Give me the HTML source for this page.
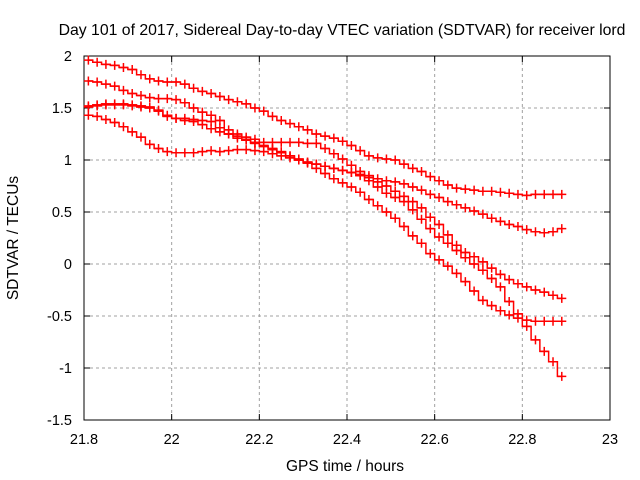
<!DOCTYPE html>
<html><head><meta charset="utf-8"><style>
body{margin:0;background:#fff}
svg{display:block;font-family:"Liberation Sans",sans-serif}
</style></head><body>
<svg id="chart" width="640" height="480" viewBox="0 0 640 480">
<text x="342" y="35" font-size="15.8" text-anchor="middle">Day 101 of 2017, Sidereal Day-to-day VTEC variation (SDTVAR) for receiver lord</text>
<text x="345" y="471" font-size="15.5" text-anchor="middle">GPS time / hours</text>
<text x="18" y="238" font-size="15.5" text-anchor="middle" transform="rotate(-90 18 238)">SDTVAR / TECUs</text>
<g id="grid"></g>
<g id="axes"></g>
<g id="series"></g>
</svg>
<script>
const xTicks=[21.8,22,22.2,22.4,22.6,22.8,23];
const xTickLabels=["21.8","22","22.2","22.4","22.6","22.8","23"];
const yTicks=[-1.5,-1,-0.5,0,0.5,1,1.5,2];
const yTickLabels=["-1.5","-1","-0.5","0","0.5","1","1.5","2"];
const xStart=21.81, xStep=0.02;
const seriesA=[1.96,1.94,1.92,1.91,1.89,1.87,1.82,1.78,1.76,1.75,1.75,1.73,1.69,1.66,1.64,1.61,1.58,1.56,1.54,1.5,1.47,1.42,1.38,1.35,1.32,1.29,1.25,1.23,1.21,1.18,1.14,1.09,1.04,1.02,1.01,1.0,0.96,0.92,0.89,0.84,0.8,0.76,0.73,0.72,0.71,0.7,0.7,0.69,0.68,0.67,0.66,0.67,0.67,0.67,0.67];
const seriesB=[1.76,1.75,1.73,1.71,1.67,1.64,1.62,1.6,1.59,1.59,1.58,1.55,1.5,1.46,1.43,1.38,1.29,1.25,1.22,1.2,1.17,1.17,1.17,1.17,1.17,1.16,1.16,1.11,1.06,1.01,0.95,0.89,0.85,0.82,0.8,0.79,0.77,0.74,0.71,0.67,0.64,0.6,0.57,0.54,0.51,0.48,0.44,0.41,0.38,0.36,0.33,0.31,0.3,0.31,0.34];
const seriesC=[1.52,1.53,1.54,1.54,1.54,1.53,1.52,1.51,1.48,1.43,1.4,1.38,1.37,1.34,1.3,1.27,1.25,1.23,1.2,1.16,1.13,1.1,1.07,1.04,1.0,0.97,0.92,0.87,0.82,0.78,0.74,0.69,0.62,0.56,0.5,0.44,0.36,0.27,0.2,0.1,0.04,-0.02,-0.09,-0.17,-0.26,-0.35,-0.4,-0.45,-0.49,-0.52,-0.54,-0.55,-0.55,-0.55,-0.55];
const seriesD=[1.43,1.42,1.39,1.36,1.32,1.27,1.22,1.15,1.11,1.08,1.07,1.07,1.07,1.08,1.09,1.08,1.09,1.1,1.1,1.09,1.08,1.06,1.04,1.02,1.0,0.98,0.96,0.94,0.92,0.9,0.88,0.86,0.83,0.79,0.75,0.7,0.65,0.6,0.54,0.45,0.38,0.28,0.18,0.11,0.07,0.02,-0.04,-0.1,-0.15,-0.19,-0.22,-0.25,-0.27,-0.3,-0.33];
const seriesE=[1.51,1.52,1.53,1.53,1.53,1.52,1.51,1.5,1.47,1.42,1.4,1.4,1.39,1.38,1.37,1.31,1.25,1.21,1.19,1.17,1.14,1.11,1.08,1.04,1.01,0.98,0.96,0.94,0.92,0.9,0.88,0.85,0.8,0.74,0.68,0.64,0.6,0.52,0.43,0.34,0.26,0.2,0.13,0.06,0.0,-0.06,-0.14,-0.22,-0.36,-0.48,-0.6,-0.73,-0.84,-0.94,-1.08];
const allSeries=[seriesA,seriesB,seriesC,seriesD,seriesE];
const seriesNames=["series-a","series-b","series-c","series-d","series-e"];

const L=84,R=610,T=56,B=420,xMin=21.8,xMax=23,yMin=-1.5,yMax=2;
const sx=v=>L+(v-xMin)/(xMax-xMin)*(R-L);
const sy=v=>B-(v-yMin)/(yMax-yMin)*(B-T);
const NS="http://www.w3.org/2000/svg";
function mk(tag,attrs,parent){const e=document.createElementNS(NS,tag);for(const k in attrs)e.setAttribute(k,attrs[k]);parent.appendChild(e);return e;}
const grid=document.getElementById('grid'),axes=document.getElementById('axes'),ser=document.getElementById('series');
xTicks.forEach((t,i)=>{
  const x=sx(t);
  if(i>0&&i<xTicks.length-1){const g=mk('line',{x1:x,x2:x,y1:T,y2:B,stroke:'#a0a0a0','stroke-dasharray':'3,3'},grid);
  
  }
  const a=mk('line',{x1:x,x2:x,y1:B,y2:B-6,stroke:'#000'},axes);
  
  
  const b=mk('line',{x1:x,x2:x,y1:T,y2:T+6,stroke:'#000'},axes);
  
  
  const tx=mk('text',{x:x,y:B+24,'font-size':14.5,'text-anchor':'middle'},axes);tx.textContent=xTickLabels[i];
  
  
});
yTicks.forEach((t,i)=>{
  const y=sy(t);
  if(i>0&&i<yTicks.length-1){const g=mk('line',{x1:L,x2:R,y1:y,y2:y,stroke:'#a0a0a0','stroke-dasharray':'3,3'},grid);
  
  }
  const a=mk('line',{x1:L,x2:L+6,y1:y,y2:y,stroke:'#000'},axes);
  
  
  const b=mk('line',{x1:R,x2:R-6,y1:y,y2:y,stroke:'#000'},axes);
  
  
  const tx=mk('text',{x:L-12,y:y+5,'font-size':14.5,'text-anchor':'end'},axes);tx.textContent=yTickLabels[i];
  
  
});
const frame=mk('rect',{x:L,y:T,width:R-L,height:B-T,fill:'none',stroke:'#000'},axes);


allSeries.forEach((vals,si)=>{
  const g=mk('g',{},ser);
  
  
  let d='';
  vals.forEach((v,i)=>{const x=sx(xStart+i*xStep),y=sy(v);
    if(i===0)d+='M'+x+','+y;else{const px=sx(xStart+(i-0.5)*xStep);d+=' H'+px+' V'+y;}
    if(i===vals.length-1)d+=' H'+x;});
  const p=mk('path',{d:d,fill:'none',stroke:'#ff0000','stroke-width':1.5},g);
  
  
  vals.forEach((v,i)=>{const x=sx(xStart+i*xStep),y=sy(v);
    const m=mk('path',{d:`M${x-4.5},${y}H${x+4.5}M${x},${y-4.5}V${y+4.5}`,stroke:'#ff0000','stroke-width':1.5},g);
    
    
  });
});
</script>
</body></html>
